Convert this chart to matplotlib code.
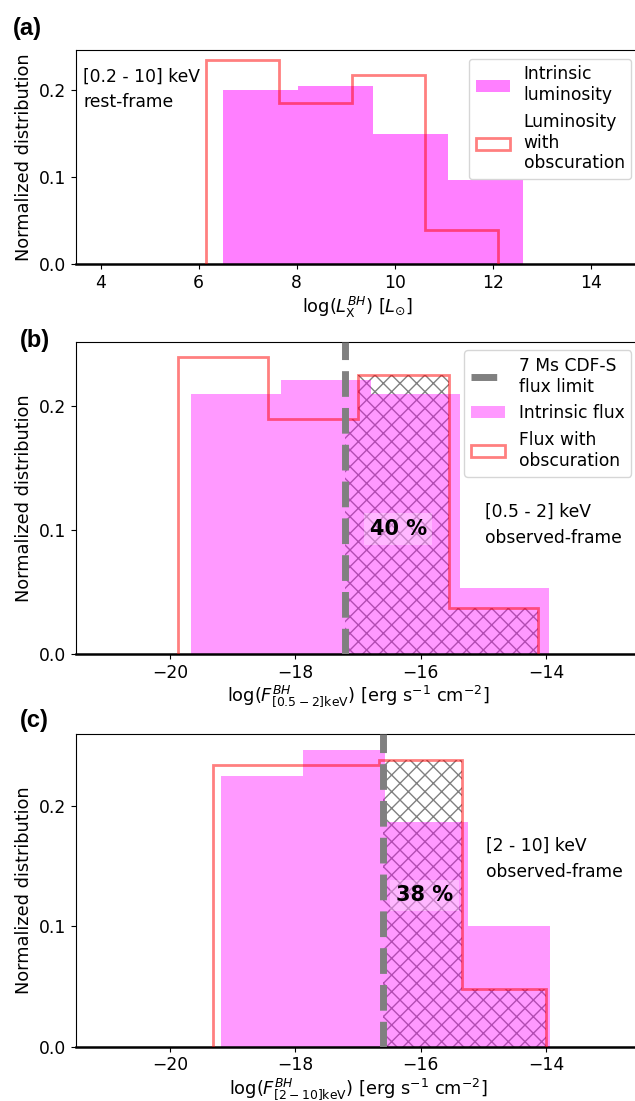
import numpy as np
import matplotlib
matplotlib.use("Agg")
import matplotlib.pyplot as plt

plt.rcParams['font.size'] = 12.3

# (a) [0.2-10] keV rest-frame luminosity
lum_int_edges = [6.50, 8.03, 9.56, 11.09, 12.62]
lum_int_h = [0.200, 0.205, 0.150, 0.097]
lum_obs_edges = [6.15, 7.64, 9.13, 10.62, 12.10]
lum_obs_h = [0.234, 0.185, 0.217, 0.039]

# (b) [0.5-2] keV observed-frame flux
soft_int_edges = [-19.66, -18.23, -16.80, -15.38, -13.95]
soft_int_h = [0.210, 0.221, 0.210, 0.053]
soft_obs_edges = [-19.87, -18.43, -17.00, -15.55, -14.12]
soft_obs_h = [0.240, 0.190, 0.225, 0.037]
soft_limit = -17.2
soft_frac = "40 %"

# (c) [2-10] keV observed-frame flux
hard_int_edges = [-19.19, -17.88, -16.57, -15.25, -13.94]
hard_int_h = [0.225, 0.247, 0.187, 0.100]
hard_obs_edges = [-19.32, -18.00, -16.67, -15.34, -14.00]
hard_obs_h = [0.234, 0.234, 0.238, 0.048]
hard_limit = -16.6
hard_frac = "38 %"


def centers(e):
    e = np.asarray(e)
    return 0.5 * (e[1:] + e[:-1])


fig = plt.figure(figsize=(6.35, 11.01), dpi=100)
W, H = 635., 1101.


def make_ax(top, bottom):
    return fig.add_axes([76 / W, 1 - bottom / H, (640 - 76) / W, (bottom - top) / H])


def style(ax):
    ax.spines['bottom'].set_linewidth(1.8)
    ax.set_ylabel("Normalized distribution", fontsize=12.8)
    ax.set_yticks([0.0, 0.1, 0.2])


########################################################
#                        (a)                           #
########################################################
ax1 = make_ax(50, 264)
ax1.hist(centers(lum_int_edges), bins=lum_int_edges, weights=lum_int_h,
         color='magenta', alpha=0.5, label="Intrinsic\nluminosity", zorder=2)
ax1.hist(centers(lum_obs_edges), bins=lum_obs_edges, weights=lum_obs_h,
         histtype='step', color='red', alpha=0.5, lw=2,
         label="Luminosity\nwith\nobscuration", zorder=3)
ax1.set_xlim(3.5, 15)
ax1.set_ylim(0, 0.246)
ax1.set_xticks([4, 6, 8, 10, 12, 14])
ax1.text(3.65, 0.2008, "[0.2 - 10] keV\nrest-frame", va='center', ha='left',
         linespacing=1.55)
ax1.set_xlabel(r"log($L_{\rm X}^{BH}$) [$L_{\odot}$]", fontsize=12.8, labelpad=2)
ax1.legend(loc='upper right')
style(ax1)


########################################################
#                     (b) and (c)                      #
########################################################
def flux_panel(ax, ie, ih, oe, oh, lim, frac, frac_xy, band, band_xy, xlabel, ytop):
    # hatched part of the obscured histogram above the flux limit
    ax.stairs(oh, np.clip(oe, lim, None), fill=True, facecolor='none',
              edgecolor='grey', hatch='xx', lw=0, zorder=1)
    ax.axvline(lim, color='grey', ls='--', lw=5, zorder=4,
               label="7 Ms CDF-S\nflux limit")
    ax.hist(centers(ie), bins=ie, weights=ih, color='magenta', alpha=0.4,
            label=band[2], zorder=2)
    ax.hist(centers(oe), bins=oe, weights=oh, histtype='step', color='red',
            alpha=0.5, lw=2, label=band[3], zorder=3)
    ax.set_xlim(-21.5, -12.5)
    ax.set_ylim(0, ytop)
    ax.set_xticks([-20, -18, -16, -14])
    ax.text(frac_xy[0], frac_xy[1], frac, ha='center', va='center',
            fontsize=15, fontweight='bold', zorder=5,
            bbox=dict(facecolor='white', alpha=0.3, edgecolor='none', pad=4))
    ax.text(band_xy[0], band_xy[1], band[0] + "\n" + band[1], ha='left',
            va='center', linespacing=1.55)
    ax.set_xlabel(xlabel, fontsize=12.8, labelpad=1)
    style(ax)


ax2 = make_ax(341.7, 654)
flux_panel(ax2, soft_int_edges, soft_int_h, soft_obs_edges, soft_obs_h,
           soft_limit, soft_frac, (-16.36, 0.1008),
           ("[0.5 - 2] keV", "observed-frame", "Intrinsic flux", "Flux with\nobscuration"),
           (-14.98, 0.1041),
           r"log($F^{BH}_{[0.5-2]\rm keV}$) [erg s$^{-1}$ cm$^{-2}$]", 0.252)
ax2.legend(loc='upper right')

ax3 = make_ax(734, 1046.7)
flux_panel(ax3, hard_int_edges, hard_int_h, hard_obs_edges, hard_obs_h,
           hard_limit, hard_frac, (-15.94, 0.126),
           ("[2 - 10] keV", "observed-frame", "Intrinsic flux", "Flux with\nobscuration"),
           (-14.95, 0.156),
           r"log($F^{BH}_{[2-10]\rm keV}$) [erg s$^{-1}$ cm$^{-2}$]", 0.26)

# panel letters
for lab, x, y in [("(a)", 13, 29), ("(b)", 20, 341), ("(c)", 20, 720)]:
    fig.text(x / W, 1 - y / H, lab, fontsize=17, fontweight='bold',
             family='Liberation Sans', va='center', ha='left')

fig.savefig("out.png", dpi=100)
